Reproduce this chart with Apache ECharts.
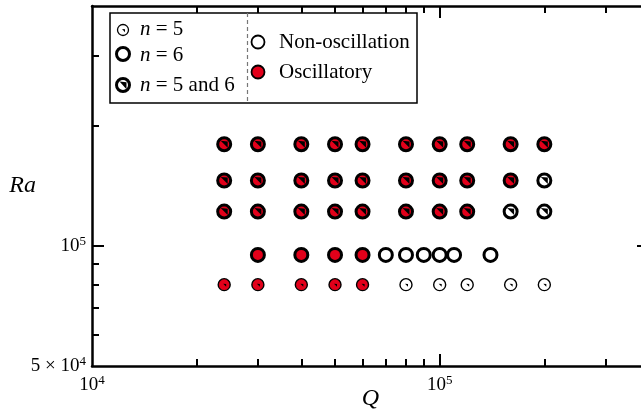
<!DOCTYPE html>
<html><head><meta charset="utf-8">
<script src="https://cdn.jsdelivr.net/npm/echarts@6/dist/echarts.min.js"></script>
<style>html,body{margin:0;padding:0;background:#fff}#c{width:641px;height:414px}</style>
</head><body><div id="c"></div>
<script>
// ---- data ([Q, Ra]) ----
const oscN56 = [
  [24000,180000],[30000,180000],[40000,180000],[50000,180000],[60000,180000],[80000,180000],[100000,180000],[120000,180000],[160000,180000],[200000,180000],
  [24000,146000],[30000,146000],[40000,146000],[50000,146000],[60000,146000],[80000,146000],[100000,146000],[120000,146000],[160000,146000],
  [24000,122000],[30000,122000],[40000,122000],[50000,122000],[60000,122000],[80000,122000],[100000,122000],[120000,122000]
];
const nonN56 = [[200000,146000],[160000,122000],[200000,122000]];
const oscN6 = [[30000,95000],[40000,95000],[50000,95000],[60000,95000]];
const nonN6 = [[70000,95000],[80000,95000],[90000,95000],[100000,95000],[110000,95000],[140000,95000]];
const oscN5 = [[24000,80000],[30000,80000],[40000,80000],[50000,80000],[60000,80000]];
const nonN5 = [[80000,80000],[100000,80000],[120000,80000],[160000,80000],[200000,80000]];

const xRange = [10000, 400000];
const yRange = [50000, 400000];
const xMajorTicks = [100000];
const xMinorTicks = [20000,30000,40000,50000,60000,70000,80000,90000,200000,300000];
const xLabels = [10000, 100000];
const yMajorTicks = [100000];
const yMinorTicks = [60000,70000,80000,90000,200000,300000];
const yLabels = [50000, 100000];

const RED = '#e2001a';
const FONT = "'Liberation Serif','Times New Roman',serif";
const WEDGE = 'path://M0,0 L10,1 L10,11 Z';

const chart = echarts.init(document.getElementById('c'), null, {renderer:'canvas'});

function supLabel(v){
  if (v === 50000) return '{b|5 × 10}{s|4}';
  const e = Math.round(Math.log10(v));
  return '{b|10}{s|' + e + '}';
}
const rich = {
  b:{fontFamily:FONT, fontSize:19, color:'#000', lineHeight:22},
  s:{fontFamily:FONT, fontSize:13, color:'#000', verticalAlign:'top', lineHeight:22, padding:[0,0,6,0]}
};

function axis(kind, pos, opts){
  const a = {
    type:'log', logBase:10, gridIndex:0, position:pos,
    min: kind==='x' ? xRange[0] : yRange[0],
    max: kind==='x' ? xRange[1] : yRange[1],
    splitLine:{show:false}, minorTick:{show:false},
    axisLine:{show:opts.line, lineStyle:{color:'#000', width:2.5}},
    axisTick:{show:true, inside:true, length:opts.len, customValues:opts.ticks, lineStyle:{color:'#000', width:2}},
    axisLabel:{show:!!opts.labels}
  };
  if (opts.labels){
    a.axisLabel = {show:true, customValues:opts.labels, formatter:supLabel, rich:rich, margin:opts.margin};
  }
  if (opts.name){
    a.name = opts.name; a.nameLocation='middle'; a.nameGap=opts.nameGap; a.nameRotate=0;
    a.nameMoveOverlap = false;
    a.nameTextStyle = {fontFamily:FONT, fontStyle:'italic', fontSize:24, color:'#000'};
  }
  return a;
}

function circ(data, size, fill, bw){
  return {type:'scatter', xAxisIndex:0, yAxisIndex:0, data:data, symbol:'circle', symbolSize:size,
    itemStyle:{color:fill, borderColor:'#000', borderWidth:bw, opacity:1}, z:2, silent:true};
}
function wedge(data, size, offset){
  return {type:'scatter', xAxisIndex:0, yAxisIndex:0, data:data, symbol:WEDGE, symbolSize:size, symbolOffset:offset,
    itemStyle:{color:'#000', opacity:1}, z:3, silent:true};
}

// legend graphics
const LX0 = 110, LY0 = 13, LW = 307, LH = 90;
const gtext = (x,y,rt) => ({type:'text', x:x, y:y, z:10, style:{text:rt, verticalAlign:'middle', align:'left',
  rich:{i:{fontFamily:FONT, fontStyle:'italic', fontSize:21, fill:'#000'}, r:{fontFamily:FONT, fontSize:21, fill:'#000'}}}});
const gcirc = (cx,cy,r,fill,lw) => ({type:'circle', z:10, shape:{cx:cx, cy:cy, r:r}, style:{fill:fill, stroke:'#000', lineWidth:lw}});
const gtri = (cx,cy,s) => ({type:'polygon', z:11, shape:{points:[[cx-0.5*s,cy-0.5*s],[cx+0.5*s,cy-0.4*s],[cx+0.5*s,cy+0.6*s]]}, style:{fill:'#000'}});

const graphic = [
  {type:'rect', z:9, shape:{x:LX0, y:LY0, width:LW, height:LH}, style:{fill:'#fff', stroke:'#000', lineWidth:1.5}},
  {type:'line', z:10, shape:{x1:247.5, y1:LY0, x2:247.5, y2:LY0+LH}, style:{stroke:'#777', lineWidth:1.2, lineDash:[4,3]}},
  gcirc(123,30,5.5,'#fff',1.3), gtri(123.5,30.5,3),
  gtext(140,29,'{i|n}{r| = 5}'),
  gcirc(123,54,6.5,'#fff',3),
  gtext(140,55,'{i|n}{r| = 6}'),
  gcirc(123,85,6.5,'#fff',3), gtri(123,85,7),
  gtext(140,85,'{i|n}{r| = 5 and 6}'),
  gcirc(258,42,6.5,'#fff',1.8),
  gtext(279,42,'{r|Non-oscillation}'),
  gcirc(258,72,6.5,RED,1.8),
  gtext(279,72,'{r|Oscillatory}')
];

chart.setOption({
  animation:false,
  backgroundColor:'#fff',
  grid:{left:92, top:6, width:557, height:360, containLabel:false, outerBoundsMode:'none'},
  xAxis:[
    axis('x','bottom',{line:true, len:12, ticks:xMajorTicks, labels:xLabels, margin:8, name:'Q', nameGap:21}),
    axis('x','bottom',{line:false, len:7, ticks:xMinorTicks}),
    axis('x','top',{line:true, len:12, ticks:xMajorTicks}),
    axis('x','top',{line:false, len:7, ticks:xMinorTicks})
  ],
  yAxis:[
    axis('y','left',{line:true, len:12, ticks:yMajorTicks, labels:yLabels, margin:6, name:'Ra', nameGap:56}),
    axis('y','left',{line:false, len:7, ticks:yMinorTicks}),
    axis('y','right',{line:true, len:12, ticks:yMajorTicks}),
    axis('y','right',{line:false, len:7, ticks:yMinorTicks})
  ],
  graphic: graphic,
  series:[
    circ(nonN6, 13, '#fff', 3),
    circ(oscN6, 13, RED, 3),
    circ(nonN5, 12, '#fff', 1.4),
    wedge(nonN5, [3,3], [0.5,0.5]),
    circ(oscN5, 12, RED, 1.4),
    wedge(oscN5, [3,3], [0.5,0.5]),
    circ(nonN56, 13, '#fff', 3),
    wedge(nonN56, [7,7], [0,0]),
    circ(oscN56, 13, RED, 3),
    wedge(oscN56, [7,7], [0,0])
  ]
});
</script>
</body></html>
